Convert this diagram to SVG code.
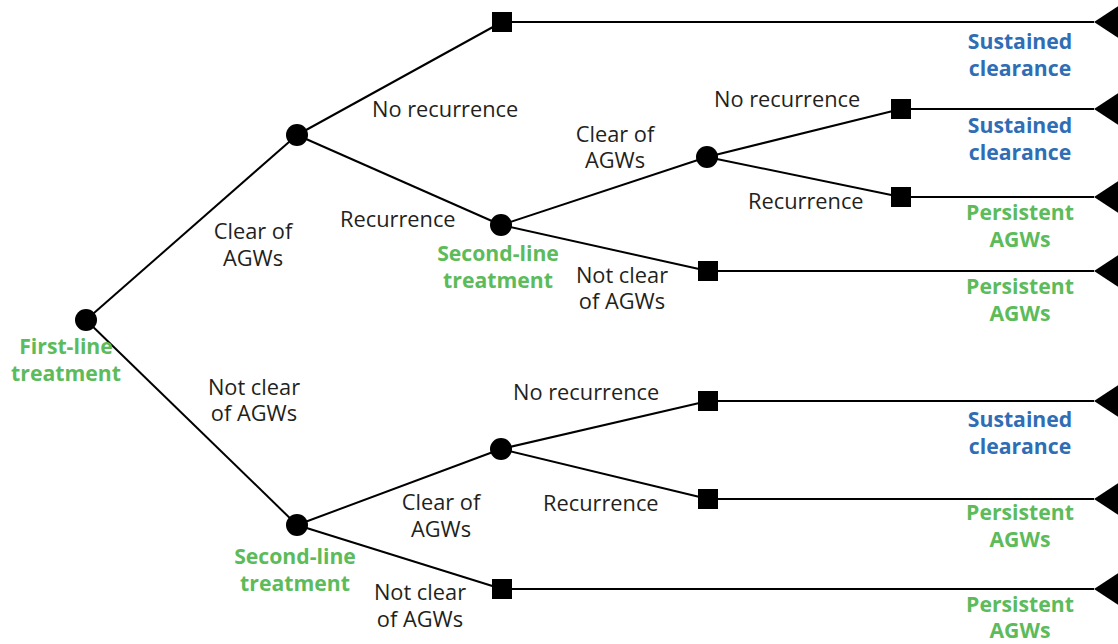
<svg xmlns="http://www.w3.org/2000/svg" width="1118" height="644" viewBox="0 0 1118 644">
  <style>
    .edge { stroke: #000; stroke-width: 2; fill: none; }
    .chance { fill: #000; }
    .term { fill: #000; }
    .end { fill: #000; }
    text { font-family: "Open Sans", "Noto Sans", "DejaVu Sans", sans-serif; font-size: 21.8px; }
    .lbl { fill: #231f20; }
    .lbl-c { fill: #231f20; text-anchor: middle; }
    .step { fill: #5cbb5a; font-weight: bold; text-anchor: middle; font-size: 21.2px; }
    .good { fill: #2f6db5; font-weight: bold; text-anchor: middle; font-size: 21.2px; }
    .bad { fill: #5cbb5a; font-weight: bold; text-anchor: middle; font-size: 21.2px; }
  </style>
  <rect width="1118" height="644" fill="#fff"/>

  <!-- branches and outcome lines -->
  <g id="connectors">
    <line class="edge" x1="86" y1="320" x2="297" y2="135"/>
    <line class="edge" x1="86" y1="320" x2="297" y2="525"/>
    <line class="edge" x1="297" y1="135" x2="502" y2="22"/>
    <line class="edge" x1="297" y1="135" x2="501" y2="225"/>
    <line class="edge" x1="501" y1="225" x2="707" y2="157"/>
    <line class="edge" x1="501" y1="225" x2="708" y2="271"/>
    <line class="edge" x1="707" y1="157" x2="901" y2="109"/>
    <line class="edge" x1="707" y1="157" x2="901" y2="197"/>
    <line class="edge" x1="297" y1="525" x2="501" y2="449"/>
    <line class="edge" x1="297" y1="525" x2="502" y2="589"/>
    <line class="edge" x1="501" y1="449" x2="708" y2="401"/>
    <line class="edge" x1="501" y1="449" x2="708" y2="499"/>
    <line class="edge" x1="502" y1="22" x2="1094" y2="22"/>
    <line class="edge" x1="901" y1="109" x2="1094" y2="109"/>
    <line class="edge" x1="901" y1="197" x2="1094" y2="197"/>
    <line class="edge" x1="708" y1="271" x2="1094" y2="271"/>
    <line class="edge" x1="708" y1="401" x2="1094" y2="401"/>
    <line class="edge" x1="708" y1="499" x2="1094" y2="499"/>
    <line class="edge" x1="502" y1="589" x2="1094" y2="589"/>
  </g>

  <!-- chance nodes -->
  <g id="first-line">
    <circle class="chance" cx="86" cy="320" r="11"/>
    <text class="step" x="66" y="354">First-line<tspan x="66" dy="27">treatment</tspan></text>
  </g>
  <g id="clear-1">
    <circle class="chance" cx="297" cy="135" r="11"/>
  </g>
  <g id="second-line-top">
    <circle class="chance" cx="501" cy="225" r="11"/>
    <text class="step" x="498" y="261">Second-line<tspan x="498" dy="27">treatment</tspan></text>
  </g>
  <g id="clear-2-top">
    <circle class="chance" cx="707" cy="157" r="11"/>
  </g>
  <g id="second-line-bottom">
    <circle class="chance" cx="297" cy="525" r="11"/>
    <text class="step" x="295" y="564">Second-line<tspan x="295" dy="27">treatment</tspan></text>
  </g>
  <g id="clear-2-bottom">
    <circle class="chance" cx="501" cy="449" r="11"/>
  </g>

  <!-- terminal nodes -->
  <g id="term-1"><rect class="term" x="492" y="12" width="20" height="20"/></g>
  <g id="term-2"><rect class="term" x="891" y="99" width="20" height="20"/></g>
  <g id="term-3"><rect class="term" x="891" y="187" width="20" height="20"/></g>
  <g id="term-4"><rect class="term" x="698" y="261" width="20" height="20"/></g>
  <g id="term-5"><rect class="term" x="698" y="391" width="20" height="20"/></g>
  <g id="term-6"><rect class="term" x="698" y="489" width="20" height="20"/></g>
  <g id="term-7"><rect class="term" x="492" y="579" width="20" height="20"/></g>

  <!-- outcomes -->
  <g id="outcome-1">
    <polygon class="end" points="1094,22 1120,5 1120,39"/>
    <text class="good" x="1020" y="49">Sustained<tspan x="1020" dy="27">clearance</tspan></text>
  </g>
  <g id="outcome-2">
    <polygon class="end" points="1094,109 1120,92 1120,126"/>
    <text class="good" x="1020" y="133">Sustained<tspan x="1020" dy="27">clearance</tspan></text>
  </g>
  <g id="outcome-3">
    <polygon class="end" points="1094,197 1120,180 1120,214"/>
    <text class="bad" x="1020" y="220">Persistent<tspan x="1020" dy="27">AGWs</tspan></text>
  </g>
  <g id="outcome-4">
    <polygon class="end" points="1094,271 1120,254 1120,288"/>
    <text class="bad" x="1020" y="294">Persistent<tspan x="1020" dy="27">AGWs</tspan></text>
  </g>
  <g id="outcome-5">
    <polygon class="end" points="1094,401 1120,384 1120,418"/>
    <text class="good" x="1020" y="427">Sustained<tspan x="1020" dy="27">clearance</tspan></text>
  </g>
  <g id="outcome-6">
    <polygon class="end" points="1094,499 1120,482 1120,516"/>
    <text class="bad" x="1020" y="520">Persistent<tspan x="1020" dy="27">AGWs</tspan></text>
  </g>
  <g id="outcome-7">
    <polygon class="end" points="1094,589 1120,572 1120,606"/>
    <text class="bad" x="1020" y="612">Persistent<tspan x="1020" dy="26">AGWs</tspan></text>
  </g>

  <!-- branch labels -->
  <g id="branch-labels">
    <text class="lbl" x="372" y="117">No recurrence</text>
    <text class="lbl-c" x="253" y="239">Clear of<tspan x="253" dy="27">AGWs</tspan></text>
    <text class="lbl" x="340" y="227">Recurrence</text>
    <text class="lbl-c" x="615" y="142">Clear of<tspan x="615" dy="26">AGWs</tspan></text>
    <text class="lbl" x="714" y="107">No recurrence</text>
    <text class="lbl" x="748" y="209">Recurrence</text>
    <text class="lbl-c" x="622" y="283">Not clear<tspan x="622" dy="26">of AGWs</tspan></text>
    <text class="lbl-c" x="254" y="395">Not clear<tspan x="254" dy="26">of AGWs</tspan></text>
    <text class="lbl" x="513" y="400">No recurrence</text>
    <text class="lbl-c" x="441" y="510">Clear of<tspan x="441" dy="27">AGWs</tspan></text>
    <text class="lbl" x="543" y="511">Recurrence</text>
    <text class="lbl-c" x="420" y="600">Not clear<tspan x="420" dy="27">of AGWs</tspan></text>
  </g>
</svg>
